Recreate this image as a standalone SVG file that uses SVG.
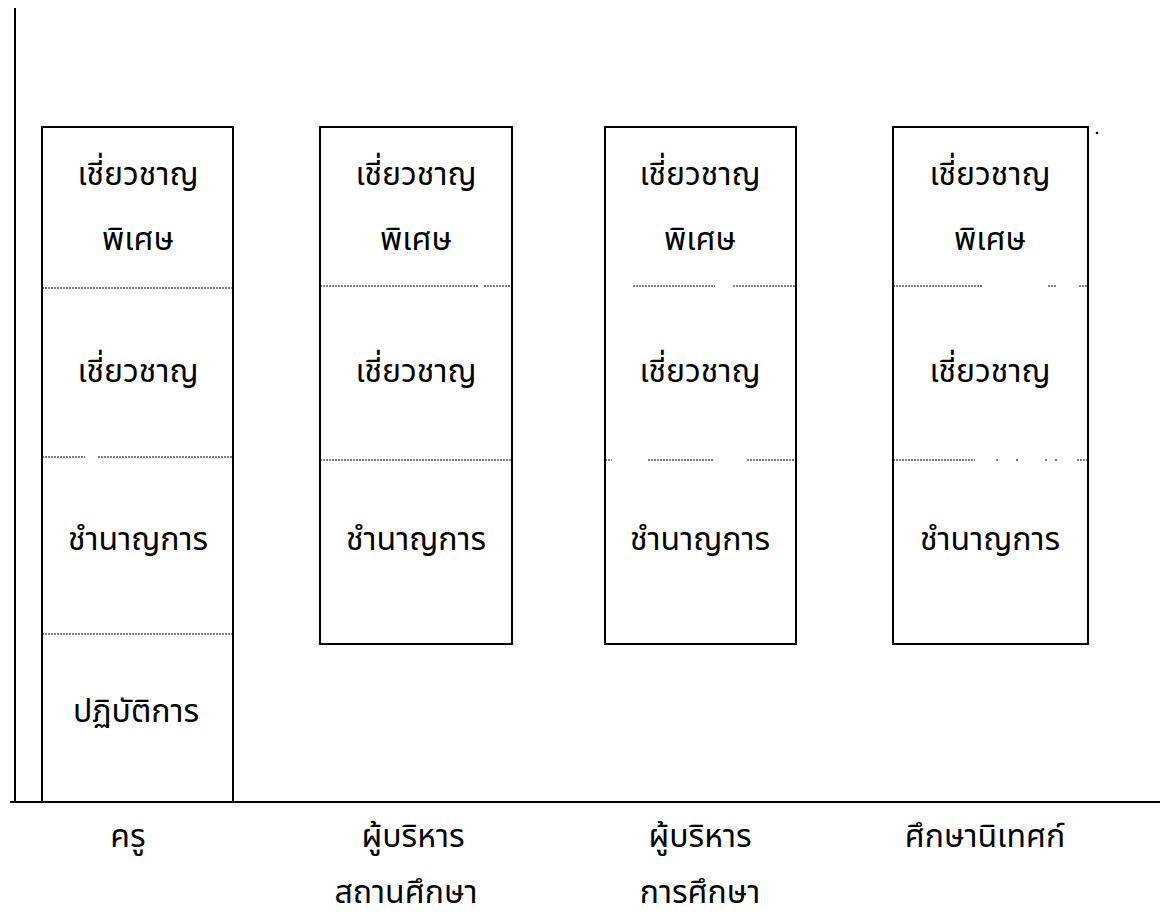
<svg xmlns="http://www.w3.org/2000/svg" width="1161" height="916" viewBox="0 0 1161 916">
<style>
.box{fill:none;stroke:#000;stroke-width:2}
.axis{fill:none;stroke:#000;stroke-width:2}
.div{fill:none;stroke:#000;stroke-width:1.2;stroke-dasharray:2 1}
text{font-family:"Noto Sans Thai","Loma","Garuda","DejaVu Sans","Noto Sans",sans-serif;font-size:32px;fill:#000;text-anchor:middle}
</style>
<rect width="1161" height="916" fill="#fff"/>
<g id="axes">
<path class="axis" d="M15 8 V802"/>
<path class="axis" d="M10 802 H1160"/>
</g>
<g id="col-kru">
<rect class="box" x="42" y="127" width="191" height="675"/>
<path class="div" d="M42 288 H233"/>
<path class="div" d="M42 457 H85 M98 457 H233"/>
<path class="div" d="M42 634 H233"/>
<text x="138" y="185">เชี่ยวชาญ</text>
<text x="138" y="250">พิเศษ</text>
<text x="138" y="382">เชี่ยวชาญ</text>
<text x="138" y="550">ชำนาญการ</text>
<text x="136" y="722">ปฏิบัติการ</text>
<text x="128" y="847">ครู</text>
</g>
<g id="col-school-admin">
<rect class="box" x="320" y="127" width="192" height="517"/>
<path class="div" d="M320 286 H478 M484 286 H512"/>
<path class="div" d="M320 460 H512"/>
<text x="416" y="185">เชี่ยวชาญ</text>
<text x="416" y="250">พิเศษ</text>
<text x="416" y="382">เชี่ยวชาญ</text>
<text x="416" y="550">ชำนาญการ</text>
<text x="413" y="847">ผู้บริหาร</text>
<text x="406" y="903">สถานศึกษา</text>
</g>
<g id="col-edu-admin">
<rect class="box" x="605" y="127" width="191" height="517"/>
<path class="div" d="M633 286 H715 M733 286 H796"/>
<path class="div" d="M605 460 H612 M648 460 H713 M747 460 H796"/>
<text x="700" y="185">เชี่ยวชาญ</text>
<text x="700" y="250">พิเศษ</text>
<text x="700" y="382">เชี่ยวชาญ</text>
<text x="700" y="550">ชำนาญการ</text>
<text x="700" y="847">ผู้บริหาร</text>
<text x="700" y="903">การศึกษา</text>
</g>
<g id="col-supervisor">
<rect class="box" x="893" y="127" width="195" height="517"/>
<path class="div" d="M893 286 H982 M1048 286 H1056 M1079 286 H1088"/>
<path class="div" d="M893 460 H975 M996 460 H998 M1016 460 H1018 M1045 460 H1047 M1055 460 H1057 M1077 460 H1088"/>
<text x="990" y="185">เชี่ยวชาญ</text>
<text x="990" y="250">พิเศษ</text>
<text x="990" y="382">เชี่ยวชาญ</text>
<text x="990" y="550">ชำนาญการ</text>
<text x="985" y="847">ศึกษานิเทศก์</text>
</g>
<circle cx="1097" cy="133" r="1.3" fill="#000"/>
</svg>
